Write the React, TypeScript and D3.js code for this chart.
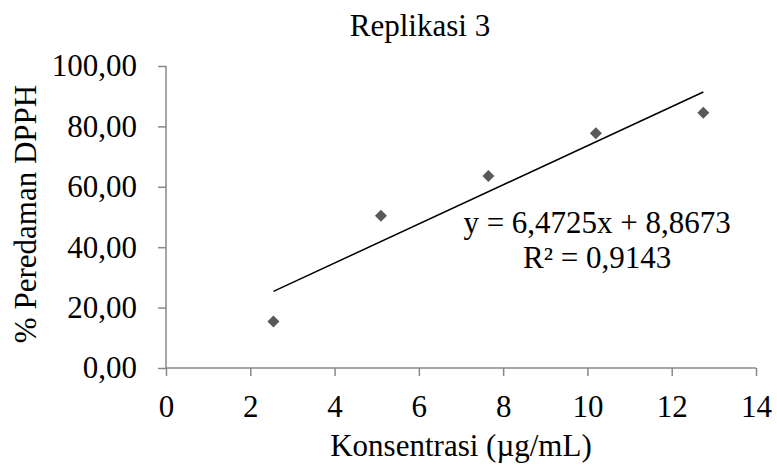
import React, { useEffect, useRef } from "react";
import * as d3 from "d3";

// Replikasi 3 data
const konsentrasi = [2.55, 5.1, 7.65, 10.2, 12.75];
const peredaman = [15.4, 50.4, 63.6, 77.7, 84.5];
const slope = 6.4725;
const intercept = 8.8673;
const rSquared = "0,9143";
const xTicks = [0, 2, 4, 6, 8, 10, 12, 14];
const yTicks = [0, 20, 40, 60, 80, 100];

const FONT = "Liberation Serif";
const FS = 31;
const AXIS_COLOR = "#888888";

function ScatterTrend({ width = 777, height = 471 }) {
  const svgRef = useRef<SVGSVGElement | null>(null);

  useEffect(() => {
    const root = d3.select(svgRef.current);
    root.selectAll("*").remove();

    const margin = { top: 66, right: 21, bottom: 103, left: 166 };
    const w = width - margin.left - margin.right;
    const h = height - margin.top - margin.bottom;

    root.append("rect").attr("width", width).attr("height", height).attr("fill", "#ffffff");

    const svg = root.append("g").attr("transform", `translate(${margin.left},${margin.top})`);

    const x = d3.scaleLinear().domain([0, 14]).range([0, w]);
    const y = d3.scaleLinear().domain([0, 100]).range([h, 0]);

    // comma decimal, like the original Excel chart
    const idLocale = d3.formatLocale({ decimal: ",", thousands: ".", grouping: [3], currency: ["", ""] });
    const fmt = idLocale.format(".2f");

    // x axis
    const gx = svg
      .append("g")
      .attr("transform", `translate(0,${h})`)
      .call(d3.axisBottom(x).tickValues(xTicks).tickSize(8).tickFormat(d3.format("d")));
    gx.attr("font-family", FONT).attr("font-size", FS);
    gx.select(".domain").attr("stroke", AXIS_COLOR).attr("stroke-width", 1.5).attr("d", `M0,0H${w}`);
    gx.selectAll(".tick line").attr("stroke", AXIS_COLOR).attr("stroke-width", 1.5);
    gx.selectAll(".tick text")
      .attr("fill", "#000")
      .attr("y", 49)
      .attr("dy", null)
      .attr("font-family", FONT)
      .attr("font-size", FS);

    // y axis
    const gy = svg
      .append("g")
      .call(d3.axisLeft(y).tickValues(yTicks).tickSize(8).tickPadding(21).tickFormat((d) => fmt(d as number)));
    gy.attr("font-family", FONT).attr("font-size", FS);
    gy.select(".domain").attr("stroke", AXIS_COLOR).attr("stroke-width", 1.5).attr("d", `M0,0V${h}`);
    gy.selectAll(".tick line").attr("stroke", AXIS_COLOR).attr("stroke-width", 1.5);
    gy.selectAll(".tick text").attr("fill", "#000").attr("font-family", FONT).attr("font-size", FS);

    // linear trend line over the data range
    const xMin = d3.min(konsentrasi) as number;
    const xMax = d3.max(konsentrasi) as number;
    svg
      .append("line")
      .attr("x1", x(xMin))
      .attr("y1", y(slope * xMin + intercept))
      .attr("x2", x(xMax))
      .attr("y2", y(slope * xMax + intercept))
      .attr("stroke", "#000")
      .attr("stroke-width", 1.5);

    // diamond markers
    const data = konsentrasi.map((k, i) => ({ k, v: peredaman[i] }));
    svg
      .selectAll("path.pt")
      .data(data)
      .join("path")
      .attr("class", "pt")
      .attr("d", d3.symbol(d3.symbolSquare, 72))
      .attr("transform", (d) => `translate(${x(d.k)},${y(d.v)}) rotate(45)`)
      .attr("fill", "#595959");

    // equation label
    const eqX = x(10.23);
    const eq = svg
      .append("text")
      .attr("x", eqX)
      .attr("y", y(44.6))
      .attr("text-anchor", "middle")
      .attr("font-family", FONT)
      .attr("font-size", FS);
    eq.append("tspan").text(`y = ${slope.toString().replace(".", ",")}x + ${intercept.toString().replace(".", ",")}`);
    eq.append("tspan").attr("x", eqX).attr("dy", 35).text(`R² = ${rSquared}`);

    // title
    root
      .append("text")
      .attr("x", 420)
      .attr("y", 36)
      .attr("text-anchor", "middle")
      .attr("font-family", FONT)
      .attr("font-size", FS)
      .text("Replikasi 3");

    // axis titles
    root
      .append("text")
      .attr("x", margin.left + w / 2)
      .attr("y", 456)
      .attr("text-anchor", "middle")
      .attr("font-family", FONT)
      .attr("font-size", FS)
      .text("Konsentrasi (µg/mL)");

    root
      .append("text")
      .attr("transform", `translate(36,214) rotate(-90)`)
      .attr("text-anchor", "middle")
      .attr("font-family", FONT)
      .attr("font-size", FS)
      .text("% Peredaman DPPH");
  }, [width, height]);

  return <svg ref={svgRef} width={width} height={height} style={{ position: "absolute", left: 0, top: 0 }} />;
}

export default function App() {
  return <ScatterTrend />;
}
